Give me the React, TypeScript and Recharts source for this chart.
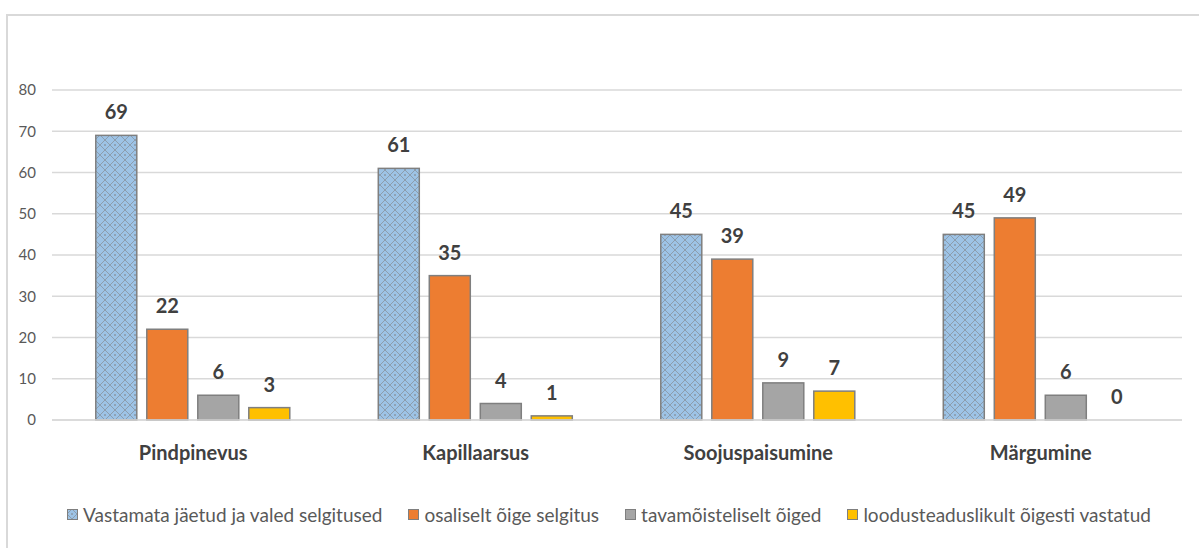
import { Bar, BarChart, CartesianGrid, LabelList, Legend, XAxis, YAxis } from "recharts";

// topics on the x axis and the four answer groups, counts
const topics = ["Pindpinevus", "Kapillaarsus", "Soojuspaisumine", "Märgumine"];
const unanswered = [69, 61, 45, 45];
const partlyRight = [22, 35, 39, 49];
const everydayRight = [6, 4, 9, 6];
const scientificRight = [3, 1, 7, 0];
const yTicks = [0, 10, 20, 30, 40, 50, 60, 70, 80];

const SERIES = [
  { key: "a", name: "Vastamata jäetud ja valed selgitused", fill: "url(#lattice)" },
  { key: "b", name: "osaliselt õige selgitus", fill: "#ed7d31" },
  { key: "c", name: "tavamõisteliselt õiged", fill: "#a5a5a5" },
  { key: "d", name: "loodusteaduslikult õigesti vastatud", fill: "#ffc000" }
];

const data = topics.map((t, i) => ({
  topic: t,
  a: unanswered[i],
  b: partlyRight[i],
  c: everydayRight[i],
  d: scientificRight[i]
}));

const FONT = "Lato, 'Open Sans', sans-serif";

function LegendRow() {
  return (
    <div style={{ display: "flex", justifyContent: "center", gap: 26, fontFamily: FONT, fontSize: 19, color: "#595959", marginLeft: 36 }}>
      {SERIES.map((s) => (
        <span key={s.key} style={{ display: "flex", alignItems: "center", gap: 5, whiteSpace: "nowrap" }}>
          <svg width={11} height={11}>
            <rect x={0.5} y={0.5} width={10} height={10} fill={s.fill} stroke="#7f7f7f" />
          </svg>
          {s.name}
        </span>
      ))}
    </div>
  );
}

// bars of value 0 get a tiny min size so their label is still placed; the rect itself is skipped
function BarShape(props: any) {
  const { x, y, width, height, fill, stroke, value } = props;
  const v = Array.isArray(value) ? value[1] - value[0] : value;
  if (!v) return null;
  return <rect x={x} y={y} width={width} height={height} fill={fill} stroke={stroke} strokeWidth={1.5} />;
}

export default function App() {
  return (
    <div style={{ position: "absolute", left: 0, top: 0, width: 1199, height: 548, background: "#fff" }}>
      <div style={{ position: "absolute", left: 6, top: 14, right: 0, bottom: 0, borderTop: "2px solid #d9d9d9", borderLeft: "2px solid #d9d9d9" }} />
      <BarChart
        width={1199}
        height={548}
        data={data}
        margin={{ top: 90, right: 17, bottom: 15, left: 0 }}
        barCategoryGap="15.5%"
        barGap={10}
        style={{ position: "absolute", left: 0, top: 0 }}
      >
        <defs>
          <pattern id="lattice" width={10} height={10} patternUnits="userSpaceOnUse">
            <rect width={10} height={10} fill="#9dc3e6" />
            <path d="M0,5 L5,0 L10,5 L5,10 Z" fill="none" stroke="#8a98a8" strokeWidth={0.9} />
            <circle cx={5} cy={5} r={1} fill="#8a98a8" />
          </pattern>
        </defs>
        <CartesianGrid vertical={false} stroke="#d9d9d9" strokeWidth={1.5} />
        <XAxis
          dataKey="topic"
          height={83}
          tickLine={false}
          axisLine={{ stroke: "#d9d9d9", strokeWidth: 1.5 }}
          tickMargin={20}
          tick={{ fontFamily: FONT, fontSize: 20, fontWeight: 700, fill: "#404040" }}
        />
        <YAxis
          width={52}
          domain={[0, 80]}
          ticks={yTicks}
          axisLine={false}
          tickLine={false}
          tickMargin={10}
          tick={{ fontFamily: FONT, fontSize: 15, fill: "#595959" }}
        />
        <Legend verticalAlign="bottom" height={30} content={() => <LegendRow />} />
        {SERIES.map((s) => (
          <Bar
            key={s.key}
            dataKey={s.key}
            name={s.name}
            fill={s.fill}
            stroke="#7f7f7f"
            minPointSize={0.5}
            shape={BarShape}
            isAnimationActive={false}
          >
            <LabelList
              dataKey={s.key}
              position="top"
              offset={16}
              style={{ fontFamily: FONT, fontSize: 20, fontWeight: 700, fill: "#404040" }}
            />
          </Bar>
        ))}
      </BarChart>
    </div>
  );
}
